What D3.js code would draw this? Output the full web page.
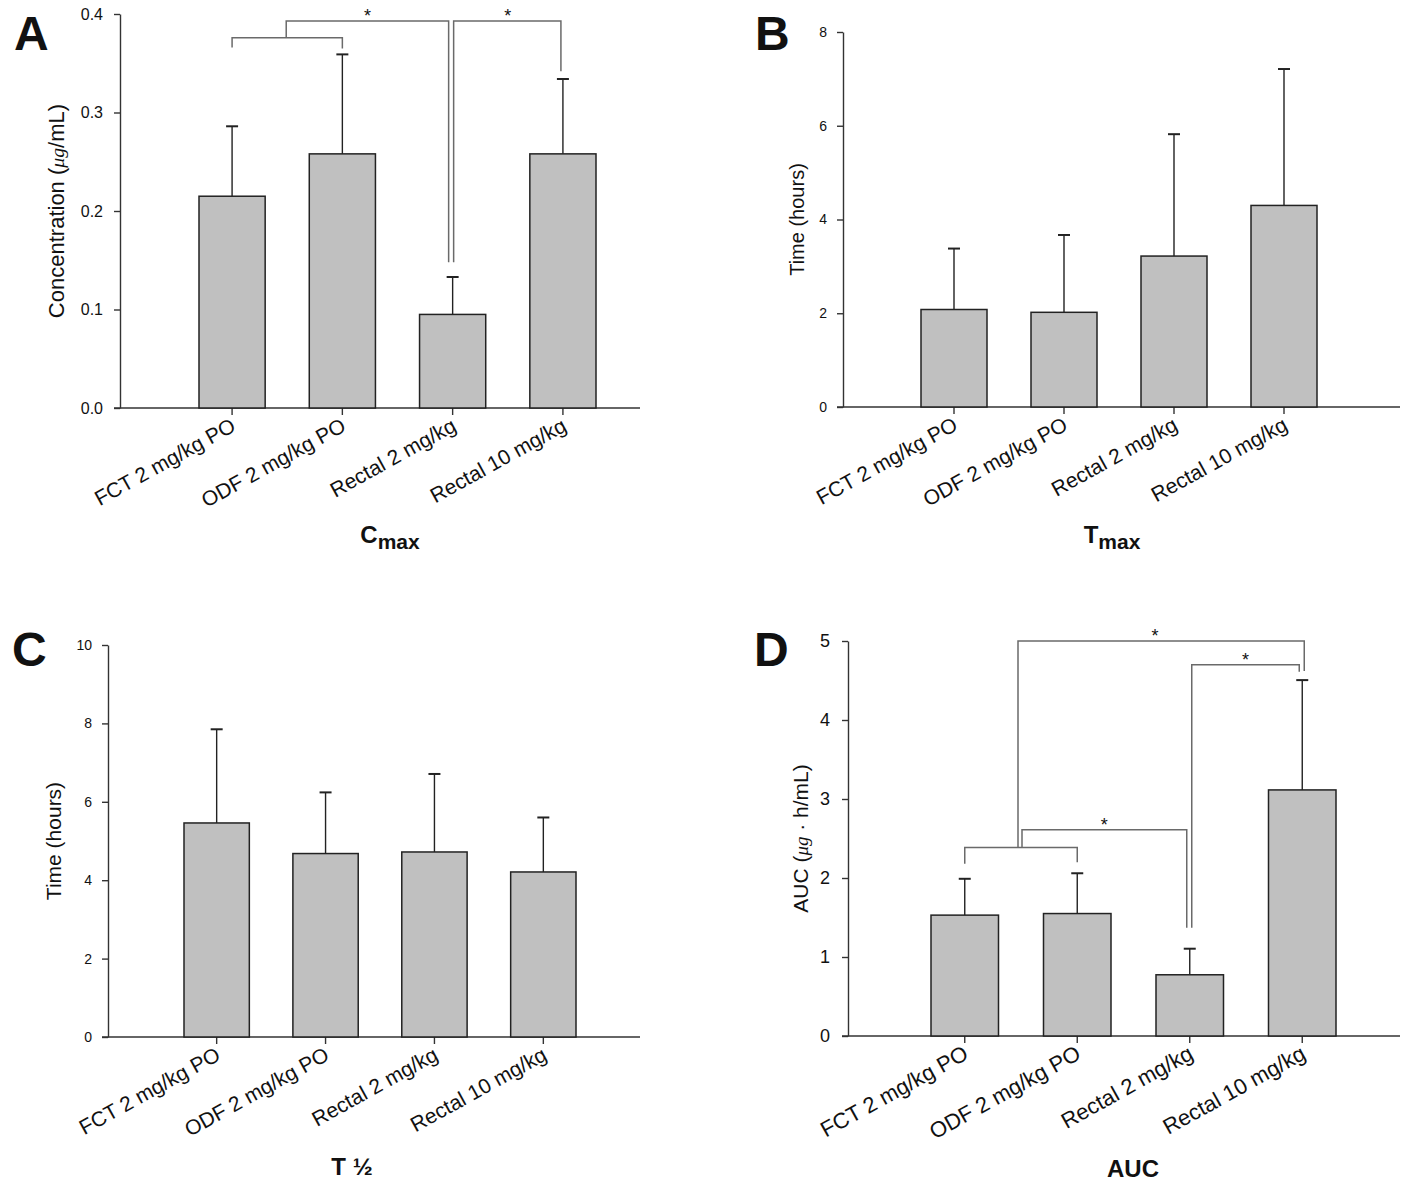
<!DOCTYPE html>
<html><head><meta charset="utf-8">
<script src="https://cdn.jsdelivr.net/npm/d3@7"></script>
<style>
body{margin:0;background:#fff}
svg{display:block}
text{font-family:"Liberation Sans",Arial,sans-serif;fill:#111}
</style>
</head><body>
<svg id="chart" width="1418" height="1183"></svg>
<script>
// ---------------- data ----------------
const categories = ["FCT 2 mg/kg PO", "ODF 2 mg/kg PO", "Rectal 2 mg/kg", "Rectal 10 mg/kg"];

const cmaxMean = [0.215, 0.258, 0.095, 0.258];
const cmaxSD   = [0.071, 0.101, 0.038, 0.076];
const cmaxTicks = [0, 0.1, 0.2, 0.3, 0.4];
const cmaxTickLabels = ["0.0", "0.1", "0.2", "0.3", "0.4"];

const tmaxMean = [2.08, 2.02, 3.22, 4.30];
const tmaxSD   = [1.30, 1.65, 2.60, 2.91];
const tmaxTicks = [0, 2, 4, 6, 8];
const tmaxTickLabels = ["0", "2", "4", "6", "8"];

const thalfMean = [5.46, 4.68, 4.72, 4.21];
const thalfSD   = [2.39, 1.56, 1.99, 1.39];
const thalfTicks = [0, 2, 4, 6, 8, 10];
const thalfTickLabels = ["0", "2", "4", "6", "8", "10"];

const aucMean = [1.53, 1.55, 0.775, 3.115];
const aucSD   = [0.46, 0.51, 0.33, 1.39];
const aucTicks = [0, 1, 2, 3, 4, 5];
const aucTickLabels = ["0", "1", "2", "3", "4", "5"];

// significance brackets: value levels (data units)
const cmaxBrackets = {
  pair: [0.366, 0.376, 0.365],          // FCT-ODF: left leg end, bar, right leg end
  top: [0.393, 0.148],                  // group -> Rectal 2: bar level, leg end
  right: [0.148, 0.393, 0.342]          // Rectal 2 -> Rectal 10
};
const aucBrackets = {
  pair: [2.18, 2.387, 2.20],
  top: [5.0, 4.62],                     // group -> Rectal 10
  mid: [2.61, 1.37],                    // group -> Rectal 2
  right: [1.37, 4.70, 4.61]             // Rectal 2 -> Rectal 10
};

// ---------------- drawing ----------------
const svg = d3.select("#chart");
const BAR_FILL = "#c0c0c0", DARK = "#222", BRK = "#6a6a6a";

function panel(cfg) {
  const g = svg.append("g");
  const x = d3.scaleBand().domain(categories).range(cfg.band).paddingInner(0.4).paddingOuter(0);
  const y = d3.scaleLinear().domain([0, cfg.yMax]).range(cfg.yRange);
  const y0 = y(0);
  const cx = c => x(c) + x.bandwidth() / 2;

  // y axis
  const ya = g.append("g").attr("transform", `translate(${cfg.axisX},0)`)
    .call(d3.axisLeft(y).tickValues(cfg.ticks).tickFormat((d, i) => cfg.tickLabels[i])
      .tickSize(6).tickSizeOuter(0).tickPadding(cfg.tickPad));
  ya.selectAll("path,line").attr("stroke", "#333").attr("stroke-width", 1.4);
  ya.selectAll("text").attr("font-size", cfg.tickFont).attr("fill", "#111")
    .style("font-family", '"Liberation Sans",Arial,sans-serif');

  // x axis
  const xa = g.append("g").attr("transform", `translate(0,${y0})`)
    .call(d3.axisBottom(x).tickSize(7).tickFormat(""));
  xa.select(".domain").remove();
  xa.selectAll("line").attr("stroke", "#333").attr("stroke-width", 1.4);
  g.append("line").attr("x1", cfg.axisX - 6).attr("x2", cfg.axisEnd)
    .attr("y1", y0).attr("y2", y0).attr("stroke", "#333").attr("stroke-width", 1.6);

  // error bars (upper only)
  g.selectAll(".err").data(categories).join("line")
    .attr("x1", c => cx(c)).attr("x2", c => cx(c))
    .attr("y1", (c, i) => y(cfg.mean[i])).attr("y2", (c, i) => y(cfg.mean[i] + cfg.sd[i]))
    .attr("stroke", DARK).attr("stroke-width", 1.4);
  g.selectAll(".cap").data(categories).join("line")
    .attr("x1", c => cx(c) - 6).attr("x2", c => cx(c) + 6)
    .attr("y1", (c, i) => y(cfg.mean[i] + cfg.sd[i])).attr("y2", (c, i) => y(cfg.mean[i] + cfg.sd[i]))
    .attr("stroke", DARK).attr("stroke-width", 2);

  // bars
  g.selectAll(".bar").data(categories).join("rect")
    .attr("x", c => x(c)).attr("width", x.bandwidth())
    .attr("y", (c, i) => y(cfg.mean[i])).attr("height", (c, i) => y0 - y(cfg.mean[i]))
    .attr("fill", BAR_FILL).attr("stroke", DARK).attr("stroke-width", 1.5);

  // category labels
  g.selectAll(".cat").data(categories).join("text")
    .attr("transform", c => `translate(${cx(c) + cfg.labDx},${y0 + cfg.labDy}) rotate(-29)`)
    .attr("text-anchor", "end").attr("font-size", cfg.catFont).text(c => c);

  // y title
  const yt = g.append("text")
    .attr("transform", `translate(${cfg.yTitleX},${(cfg.yRange[0] + cfg.yRange[1]) / 2}) rotate(-90)`)
    .attr("text-anchor", "middle").attr("font-size", cfg.yTitleFont);
  cfg.yTitle.forEach(p => {
    const t = yt.append("tspan").text(p.t);
    if (p.mu) t.attr("font-style", "italic").attr("font-family", '"Liberation Serif","DejaVu Serif",serif')
      .attr("font-size", cfg.yTitleFont * 0.9);
  });

  // bottom title
  const bt = g.append("text").attr("x", cfg.bTitle[0]).attr("y", cfg.bTitle[1])
    .attr("text-anchor", "middle").attr("font-weight", "bold").attr("font-size", 24);
  bt.append("tspan").text(cfg.bMain);
  if (cfg.bSub) bt.append("tspan").attr("dy", 6).attr("font-size", 21).text(cfg.bSub);

  // panel letter
  g.append("text").attr("x", cfg.letterPos[0]).attr("y", cfg.letterPos[1])
    .attr("font-weight", "bold").attr("font-size", 48).text(cfg.letter);

  return { g, x, y, cx };
}

function bracketPath(g, pts, y) {
  g.append("path").attr("d", d3.line()(pts.map(p => [p[0], y(p[1])])))
    .attr("fill", "none").attr("stroke", BRK).attr("stroke-width", 1.5);
}
function star(g, xc, yv, y) {
  g.append("text").attr("x", xc).attr("y", y(yv) + 1).attr("text-anchor", "middle")
    .attr("font-size", 18).attr("fill", "#222").text("*");
}

// Panel A
const A = panel({
  letter: "A", letterPos: [14, 50], axisX: 120, axisEnd: 640, band: [199, 596],
  yRange: [408, 14], yMax: 0.4, ticks: cmaxTicks, tickLabels: cmaxTickLabels, tickFont: 16, tickPad: 11,
  mean: cmaxMean, sd: cmaxSD, catFont: 21, labDx: 5, labDy: 22,
  yTitle: [{ t: "Concentration (" }, { t: "μg", mu: true }, { t: "/mL)" }], yTitleX: 64, yTitleFont: 22,
  bTitle: [390, 543], bMain: "C", bSub: "max"
});
{
  const { g, y, cx } = A, c = categories, b = cmaxBrackets;
  const mid = (cx(c[0]) + cx(c[1])) / 2 - 1;
  bracketPath(g, [[cx(c[0]), b.pair[0]], [cx(c[0]), b.pair[1]], [cx(c[1]), b.pair[1]], [cx(c[1]), b.pair[2]]], y);
  bracketPath(g, [[mid, b.pair[1]], [mid, b.top[0]], [cx(c[2]) - 4, b.top[0]], [cx(c[2]) - 4, b.top[1]]], y);
  bracketPath(g, [[cx(c[2]) + 1, b.right[0]], [cx(c[2]) + 1, b.right[1]], [cx(c[3]) - 2, b.right[1]], [cx(c[3]) - 2, b.right[2]]], y);
  star(g, (mid + cx(c[2]) - 4) / 2, b.top[0], y);
  star(g, (cx(c[2]) + cx(c[3])) / 2, b.right[1], y);
}

// Panel B
panel({
  letter: "B", letterPos: [755, 50], axisX: 843, axisEnd: 1400, band: [921, 1317],
  yRange: [407, 32], yMax: 8, ticks: tmaxTicks, tickLabels: tmaxTickLabels, tickFont: 14, tickPad: 10,
  mean: tmaxMean, sd: tmaxSD, catFont: 21, labDx: 5, labDy: 22,
  yTitle: [{ t: "Time (hours)" }], yTitleX: 804, yTitleFont: 20,
  bTitle: [1112, 543], bMain: "T", bSub: "max"
});

// Panel C
panel({
  letter: "C", letterPos: [12, 666], axisX: 108, axisEnd: 640, band: [184, 576],
  yRange: [1037, 645], yMax: 10, ticks: thalfTicks, tickLabels: thalfTickLabels, tickFont: 14, tickPad: 10,
  mean: thalfMean, sd: thalfSD, catFont: 21, labDx: 5, labDy: 22,
  yTitle: [{ t: "Time (hours)" }], yTitleX: 61, yTitleFont: 21,
  bTitle: [352, 1175], bMain: "T ½"
});

// Panel D
const D = panel({
  letter: "D", letterPos: [754, 666], axisX: 848, axisEnd: 1400, band: [931, 1336],
  yRange: [1036, 641], yMax: 5, ticks: aucTicks, tickLabels: aucTickLabels, tickFont: 18, tickPad: 12,
  mean: aucMean, sd: aucSD, catFont: 22, labDx: 5, labDy: 22,
  yTitle: [{ t: "AUC (" }, { t: "μg", mu: true }, { t: " · h/mL)" }], yTitleX: 808, yTitleFont: 21,
  bTitle: [1133, 1177], bMain: "AUC"
});
{
  const { g, y, cx } = D, c = categories, b = aucBrackets;
  const mid = (cx(c[0]) + cx(c[1])) / 2;
  bracketPath(g, [[cx(c[0]), b.pair[0]], [cx(c[0]), b.pair[1]], [cx(c[1]), b.pair[1]], [cx(c[1]), b.pair[2]]], y);
  bracketPath(g, [[mid - 3, b.pair[1]], [mid - 3, b.top[0]], [cx(c[3]) + 2, b.top[0]], [cx(c[3]) + 2, b.top[1]]], y);
  bracketPath(g, [[mid + 1, b.pair[1]], [mid + 1, b.mid[0]], [cx(c[2]) - 3, b.mid[0]], [cx(c[2]) - 3, b.mid[1]]], y);
  bracketPath(g, [[cx(c[2]) + 2, b.right[0]], [cx(c[2]) + 2, b.right[1]], [cx(c[3]) - 3, b.right[1]], [cx(c[3]) - 3, b.right[2]]], y);
  star(g, (mid - 3 + cx(c[3]) + 2) / 2 - 6, b.top[0], y);
  star(g, (mid + 1 + cx(c[2]) - 3) / 2, b.mid[0], y);
  star(g, (cx(c[2]) + 2 + cx(c[3]) - 3) / 2, b.right[1], y);
}
</script>
</body></html>
